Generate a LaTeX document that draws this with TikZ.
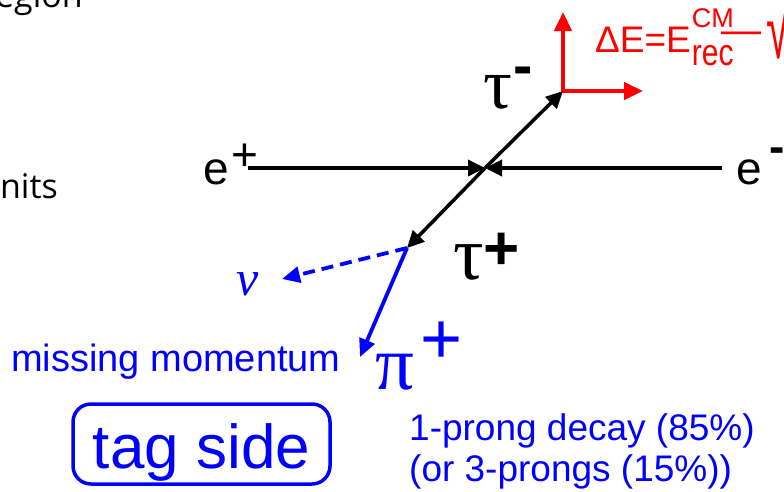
\documentclass[tikz,border=0pt]{standalone}
\usepackage{fontspec}
\setmainfont{Liberation Sans}
\newfontfamily\serifgr{Liberation Serif}
\newfontfamily\slidefont{Open Sans}
\usetikzlibrary{arrows.meta}
\definecolor{pblue}{RGB}{0,0,255}
\definecolor{pred}{RGB}{255,0,0}
\tikzset{
  fs/.style={font=\fontsize{#1}{#1}\selectfont},
  gr/.style={font=\serifgr\fontsize{#1}{#1}\selectfont},
  lbl/.style={inner sep=0pt, anchor=base west},
  blk/.style={line width=3.5pt, -{Triangle[length=17pt,width=16pt]}},
  bluearr/.style={pblue, line width=3.8pt, -{Triangle[length=18pt,width=16pt]}},
  bluedash/.style={bluearr, dash pattern=on 12pt off 7pt},
  redax/.style={pred, line width=4.5pt, {Triangle[length=19pt,width=17pt]}-{Triangle[length=19pt,width=17pt]}},
}
\begin{document}
\begin{tikzpicture}[x=1pt,y=-1pt]
\useasboundingbox (0,0) rectangle (784,491);
\clip (0,0) rectangle (784,491);
\fill[white] (0,0) rectangle (784,491);

% cut-off slide text
\node[inner sep=0pt, anchor=base east, font=\slidefont\fontsize{34}{34}\selectfont] (t1) at (83,7) {egion};
\node[inner sep=0pt, anchor=base east, font=\slidefont\fontsize{34}{34}\selectfont] (t2) at (58,198) {nits};

% coordinates
\coordinate (c) at (485,168);
\coordinate (epl) at (248,168);
\coordinate (eml) at (722,168);
\coordinate (tm) at (563,91);
\coordinate (tp) at (407,248);
\coordinate (ry) at (563,12);
\coordinate (rx) at (643,91);
\coordinate (nuend) at (282,279);
\coordinate (piend) at (360,357);

% red axes
\draw[redax] (ry) -- (tm) -- (rx);

% black lines
\draw[blk] (epl) -- (c);
\draw[blk] (eml) -- (c);
\draw[blk] (c) -- (tm);
\draw[blk] (c) -- (tp);

% blue decay products
\draw[bluedash] (tp) -- (nuend);
\draw[bluearr] (tp) -- (piend);

% labels
\node[lbl, fs=46] (ep) at (203,184) {e\kern3pt\raisebox{14pt}{+}};
\node[lbl, fs=46] (em) at (736,184) {e\kern8pt\raisebox{22pt}{\bfseries -}};
\node[lbl, gr=72] (taum) at (483,108) {τ\kern1pt\raisebox{23pt}{\normalfont\bfseries\fontsize{58}{58}\selectfont -}};
\node[lbl, gr=76] (taup) at (453,279) {τ\raisebox{10pt}{\normalfont\bfseries\fontsize{62}{62}\selectfont +}};
\node[lbl, gr=77, text=pblue] (pi) at (375,389) {π\kern6pt\raisebox{26pt}{\normalfont\fontsize{72}{72}\selectfont +}};
\node[lbl, gr=50, text=pblue] (nu) at (236,295) {\itshape ν};
\node[lbl, fs=38, text=pblue] (mm) at (11,371) {missing momentum};

\node[draw=pblue, text=pblue, fs=62, line width=3.5pt, rounded corners=18pt, inner sep=0pt,
      minimum width=257pt, text height=64pt, text depth=16pt] (tag) at (201.5,444) {tag side};

\node[lbl, fs=37, text=pblue] (d1) at (409,440) {1-prong decay (85\%)};
\node[lbl, fs=37, text=pblue] (d2) at (409,481) {(or 3-prongs (15\%))};

\node[lbl, fs=37, text=pred] (de) at (595,52) {ΔE=E\kern1pt\rlap{\raisebox{25pt}{\fontsize{27}{27}\selectfont CM}}\raisebox{-13pt}{\scalebox{1}[1.25]{\fontsize{30}{30}\selectfont rec}}\kern-12pt\raisebox{9pt}{\fontsize{40}{40}\selectfont —}\kern5pt\raisebox{-6pt}{\scalebox{1}[1.9]{\fontsize{44}{44}\selectfont √}}};
\end{tikzpicture}
\end{document}
